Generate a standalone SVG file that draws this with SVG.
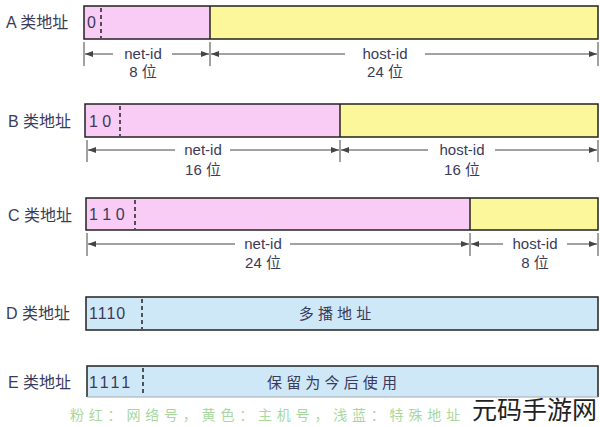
<svg xmlns="http://www.w3.org/2000/svg" width="600" height="427" viewBox="0 0 600 427">
<style>
text{font-family:"Liberation Sans","Noto Sans CJK SC",sans-serif;fill:#3a3a5a}
.lab{font-size:16px}
.bits{font-size:16px}
.dim{font-size:15px;text-anchor:middle}
.box{stroke:#222;stroke-width:1.5}
.pink{fill:#f9ccf5}.yel{fill:#fbf79a}.blue{fill:#cfe8f8}
.dash{stroke:#222;stroke-width:1.5;stroke-dasharray:4,3}
.dl{stroke:#444;stroke-width:1;fill:none}
</style>
<defs><marker id="ar" markerWidth="8" markerHeight="6" refX="8" refY="3" orient="auto-start-reverse"><path d="M0,0L8,3L0,6z" fill="#444"/></marker></defs>
<g id="A">
<text class="lab" x="6" y="28">A 类地址</text>
<rect class="pink" x="84" y="6" width="126" height="33"/><rect class="yel" x="210" y="6" width="388" height="33"/>
<rect class="box" x="84" y="6" width="514" height="33" fill="none"/><line class="box" x1="210" y1="6" x2="210" y2="39"/>
<line class="dash" x1="101" y1="8" x2="101" y2="38"/>
<text class="bits" x="87" y="28">0</text>
</g>
<g id="B">
<text class="lab" x="8" y="127">B 类地址</text>
<rect class="pink" x="85" y="104" width="255" height="33"/><rect class="yel" x="340" y="104" width="258" height="33"/>
<rect class="box" x="85" y="104" width="513" height="33" fill="none"/><line class="box" x1="340" y1="104" x2="340" y2="137"/>
<line class="dash" x1="120" y1="106" x2="120" y2="136"/>
<text class="bits" x="89" y="127">1 0</text>
</g>
<g id="C">
<text class="lab" x="8" y="221">C 类地址</text>
<rect class="pink" x="86" y="198" width="384" height="32"/><rect class="yel" x="470" y="198" width="128" height="32"/>
<rect class="box" x="86" y="198" width="512" height="32" fill="none"/><line class="box" x1="470" y1="198" x2="470" y2="230"/>
<line class="dash" x1="135" y1="200" x2="135" y2="229"/>
<text class="bits" x="89" y="220">1 1 0</text>
</g>
<g id="D">
<text class="lab" x="6" y="319">D 类地址</text>
<rect class="blue box" x="86" y="297" width="512" height="33"/>
<line class="dash" x1="142" y1="299" x2="142" y2="329"/>
<text class="bits" x="89" y="319" letter-spacing="1">1110</text>
<text class="dim" x="335" y="319">多 播 地 址</text>
</g>
<g id="E">
<text class="lab" x="8" y="388">E 类地址</text>
<rect class="blue" x="87" y="366" width="511" height="31"/>
<path class="box" d="M87,397V366H598V397" fill="none"/><line x1="87" y1="397" x2="598" y2="397" stroke="#aaa"/>
<line class="dash" x1="143" y1="368" x2="143" y2="396"/>
<text class="bits" x="89" y="388" letter-spacing="3">1111</text>
<text class="dim" x="332" y="388">保 留 为 今 后 使 用</text>
</g>
<g id="connectors">
<g class="dl">
<line x1="84" y1="42" x2="84" y2="66"/><line x1="210" y1="42" x2="210" y2="66"/><line x1="598" y1="42" x2="598" y2="66"/>
<line x1="85" y1="54" x2="113" y2="54" marker-start="url(#ar)"/><line x1="172" y1="54" x2="209" y2="54" marker-end="url(#ar)"/>
<line x1="211" y1="54" x2="345" y2="54" marker-start="url(#ar)"/><line x1="425" y1="54" x2="597" y2="54" marker-end="url(#ar)"/>
<line x1="87" y1="140" x2="87" y2="162"/><line x1="340" y1="140" x2="340" y2="162"/><line x1="598" y1="140" x2="598" y2="162"/>
<line x1="88" y1="150" x2="175" y2="150" marker-start="url(#ar)"/><line x1="230" y1="150" x2="339" y2="150" marker-end="url(#ar)"/>
<line x1="341" y1="150" x2="428" y2="150" marker-start="url(#ar)"/><line x1="495" y1="150" x2="597" y2="150" marker-end="url(#ar)"/>
<line x1="87" y1="233" x2="87" y2="256"/><line x1="470" y1="233" x2="470" y2="256"/><line x1="598" y1="233" x2="598" y2="256"/>
<line x1="88" y1="244" x2="235" y2="244" marker-start="url(#ar)"/><line x1="290" y1="244" x2="469" y2="244" marker-end="url(#ar)"/>
<line x1="471" y1="244" x2="503" y2="244" marker-start="url(#ar)"/><line x1="567" y1="244" x2="597" y2="244" marker-end="url(#ar)"/>
</g>
<text class="dim" x="143" y="59">net-id</text><text class="dim" x="143" y="77">8 位</text>
<text class="dim" x="385" y="59">host-id</text><text class="dim" x="385" y="77">24 位</text>
<text class="dim" x="203" y="155">net-id</text><text class="dim" x="203" y="175">16 位</text>
<text class="dim" x="462" y="155">host-id</text><text class="dim" x="462" y="175">16 位</text>
<text class="dim" x="263" y="249">net-id</text><text class="dim" x="263" y="268">24 位</text>
<text class="dim" x="535" y="249">host-id</text><text class="dim" x="535" y="268">8 位</text>
</g>
<text x="70" y="420" style="font-family:'Noto Sans CJK SC',serif;font-size:14px;fill:#a8d8a0" textLength="390">粉红：网络号，黄色：主机号，浅蓝：特殊地址</text>
<text x="472" y="419" style="font-size:25px;fill:#222">元码手游网</text>
</svg>
